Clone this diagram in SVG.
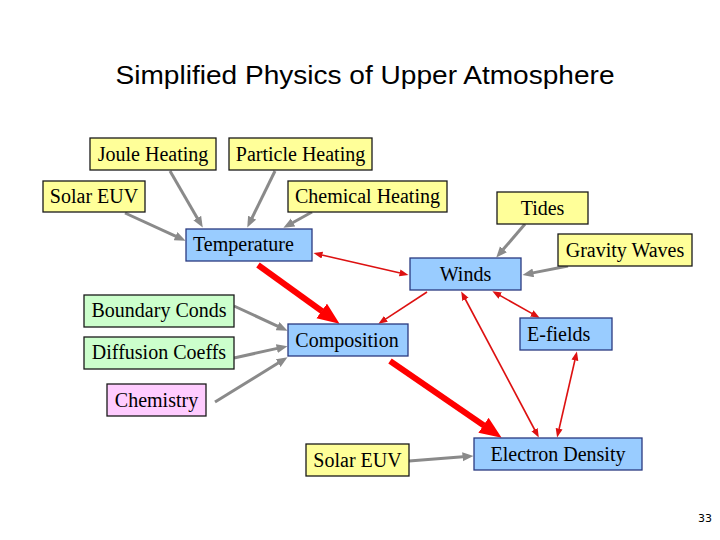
<svg xmlns="http://www.w3.org/2000/svg" width="720" height="540" viewBox="0 0 720 540">
<style>
.box rect{stroke-width:1.3}
.y rect{fill:#ffff99;stroke:#1a1a1a}
.b rect{fill:#99ccff;stroke:#2a3a80}
.g rect{fill:#ccffcc;stroke:#1a1a1a}
.p rect{fill:#ffccff;stroke:#1a1a1a}
.box text{font-family:"Liberation Serif","Times New Roman",serif;font-size:20px;fill:#000;text-anchor:middle}
.box text.l{text-anchor:start}
.gray{stroke:#8a8a8a;stroke-width:3;fill:none;marker-end:url(#hg)}
.rt{stroke:#ff0000;stroke-width:6;fill:none;marker-end:url(#hr)}
.rn{stroke:#dd1111;stroke-width:1.6;fill:none;marker-end:url(#hn)}
.rn2{stroke:#dd1111;stroke-width:1.6;fill:none;marker-end:url(#hn);marker-start:url(#hn)}
</style>
<defs>
<marker id="hg" markerUnits="userSpaceOnUse" markerWidth="12" markerHeight="10" refX="0.5" refY="4.5" orient="auto-start-reverse"><path d="M0,0 L11,4.5 L0,9 z" fill="#8a8a8a"/></marker>
<marker id="hr" markerUnits="userSpaceOnUse" markerWidth="23" markerHeight="19" refX="0.5" refY="9" orient="auto-start-reverse"><path d="M0,0 L22,9 L0,18 z" fill="#ff0000"/></marker>
<marker id="hn" markerUnits="userSpaceOnUse" markerWidth="10" markerHeight="8" refX="0.5" refY="3.5" orient="auto-start-reverse"><path d="M0,0 L9,3.5 L0,7 z" fill="#dd1111"/></marker>
</defs>
<rect width="720" height="540" fill="#ffffff"/>
<text x="365" y="84" font-family="'Liberation Sans',Arial,sans-serif" font-size="26" text-anchor="middle" textLength="499" lengthAdjust="spacingAndGlyphs" fill="#000">Simplified Physics of Upper Atmosphere</text>

<g id="connectors">
<line class="gray" x1="170" y1="171" x2="197.5" y2="218.5"/>
<line class="gray" x1="275" y1="171" x2="251.9" y2="218.1"/>
<line class="gray" x1="125" y1="213" x2="176" y2="236.4"/>
<line class="gray" x1="312" y1="212" x2="292.6" y2="222.7"/>
<line class="gray" x1="525" y1="224" x2="503.1" y2="249.6"/>
<line class="gray" x1="568" y1="266" x2="532.8" y2="272.9"/>
<line class="gray" x1="234" y1="306" x2="278" y2="326.4"/>
<line class="gray" x1="234" y1="358" x2="277.3" y2="348.4"/>
<line class="gray" x1="215" y1="402" x2="278.6" y2="362.8"/>
<line class="gray" x1="409" y1="461" x2="463" y2="456.8"/>
<line class="rt" x1="258" y1="265" x2="322.1" y2="311.2"/>
<line class="rt" x1="390" y1="361" x2="483.9" y2="425.5"/>
<line class="rn2" x1="321.8" y1="255" x2="400.2" y2="273"/>
<line class="rn" x1="427" y1="292" x2="385.5" y2="319.1"/>
<line class="rn2" x1="465.2" y1="299" x2="534.8" y2="430"/>
<line class="rn2" x1="499.8" y1="295.4" x2="532.2" y2="313.6"/>
<line class="rn2" x1="575" y1="359.8" x2="559" y2="429.2"/>
</g>

<g id="joule" class="box y"><rect x="90" y="138" width="126" height="32"/><text x="153" y="161">Joule Heating</text></g>
<g id="particle" class="box y"><rect x="229" y="138" width="143" height="32"/><text x="300.5" y="161">Particle Heating</text></g>
<g id="solar-euv-top" class="box y"><rect x="43" y="181" width="102" height="31"/><text x="94" y="203">Solar EUV</text></g>
<g id="chemical" class="box y"><rect x="288" y="181" width="159" height="31"/><text x="367.5" y="203">Chemical Heating</text></g>
<g id="tides" class="box y"><rect x="497" y="192" width="91" height="32"/><text x="542.5" y="215">Tides</text></g>
<g id="temperature" class="box b"><rect x="186" y="229" width="126" height="32"/><text class="l" x="193" y="251">Temperature</text></g>
<g id="gravity" class="box y"><rect x="558" y="234" width="134" height="32"/><text x="625" y="257">Gravity Waves</text></g>
<g id="winds" class="box b"><rect x="410" y="258" width="111" height="32"/><text x="465.5" y="281">Winds</text></g>
<g id="boundary" class="box g"><rect x="84" y="295" width="150" height="32"/><text x="159" y="317">Boundary Conds</text></g>
<g id="diffusion" class="box g"><rect x="84" y="337" width="150" height="32"/><text x="159" y="359">Diffusion Coeffs</text></g>
<g id="composition" class="box b"><rect x="288" y="324" width="120" height="32"/><text x="347" y="347">Composition</text></g>
<g id="efields" class="box b"><rect x="520" y="318" width="92" height="32"/><text class="l" x="527" y="341">E-fields</text></g>
<g id="chemistry" class="box p"><rect x="107" y="384" width="99" height="32"/><text x="156.5" y="407">Chemistry</text></g>
<g id="solar-euv-bottom" class="box y"><rect x="306" y="444" width="103" height="32"/><text x="357.5" y="467">Solar EUV</text></g>
<g id="electron" class="box b"><rect x="474" y="438" width="168" height="32"/><text x="558" y="461">Electron Density</text></g>

<text x="712" y="522" font-family="'DejaVu Sans',sans-serif" font-size="11" text-anchor="end" fill="#000">33</text>
</svg>
